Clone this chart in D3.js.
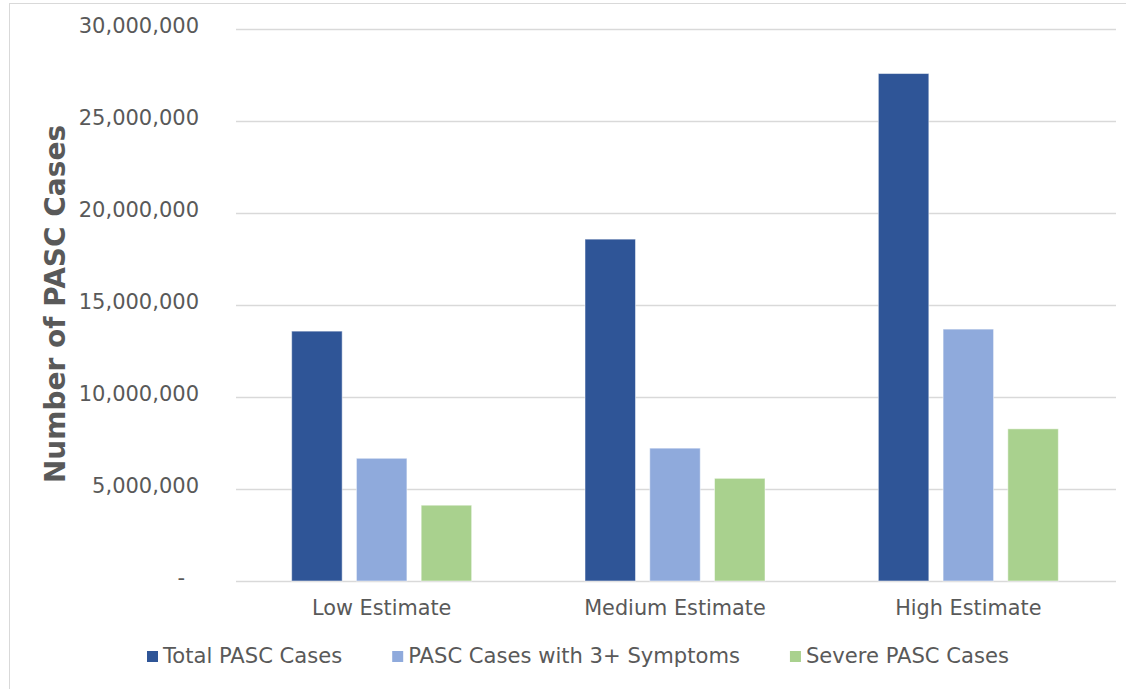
<!DOCTYPE html>
<html>
<head>
<meta charset="utf-8">
<script src="https://cdn.jsdelivr.net/npm/d3@7"></script>
<style>
  body { margin: 0; background: #fff; }
  text { font-family: "DejaVu Sans", Verdana, sans-serif; fill: #595959; }
</style>
</head>
<body>
<svg id="chart" width="1126" height="689"></svg>
<script>
const categories = ["Low Estimate", "Medium Estimate", "High Estimate"];
const seriesNames = ["Total PASC Cases", "PASC Cases with 3+ Symptoms", "Severe PASC Cases"];
const seriesColors = ["#2F5597", "#8FAADC", "#A9D18E"];
const totalCases = [13580000, 18580000, 27580000];
const symptomCases = [6670000, 7220000, 13690000];
const severeCases = [4120000, 5580000, 8270000];
const yTicks = [0, 5000000, 10000000, 15000000, 20000000, 25000000, 30000000];

const series = [totalCases, symptomCases, severeCases];

const svg = d3.select('#chart');
const W = 1126, H = 689;
const m = { left: 236, right: 10, top: 29, bottom: 108 };

// chart border
svg.append('rect')
  .attr('x', 9.5).attr('y', 3.5)
  .attr('width', 1300).attr('height', 900)
  .attr('fill', 'none')
  .attr('stroke', '#d9d9d9');

const x0 = d3.scaleBand()
  .domain(categories)
  .range([m.left, W - m.right])
  .padding(0);

const groupW = 180;
const x1 = d3.scaleBand()
  .domain(d3.range(seriesNames.length))
  .range([0, groupW])
  .paddingInner(0.22)
  .paddingOuter(0);

const y = d3.scaleLinear()
  .domain([0, 30000000])
  .range([H - m.bottom, m.top]);

// gridlines
svg.append('g')
  .selectAll('line')
  .data(yTicks)
  .enter()
  .append('line')
  .attr('x1', m.left)
  .attr('x2', W - m.right)
  .attr('y1', d => Math.round(y(d)) + 0.5)
  .attr('y2', d => Math.round(y(d)) + 0.5)
  .attr('stroke', '#d9d9d9')
  .attr('stroke-width', 1.3);

// y tick labels
const fmt = d3.format(',');
svg.append('g')
  .selectAll('text')
  .data(yTicks)
  .enter()
  .append('text')
  .attr('x', d => d === 0 ? 185 : 199)
  .attr('y', d => y(d) - 2)
  .attr('text-anchor', 'end')
  .attr('dominant-baseline', 'middle')
  .attr('font-size', '21px')
  .text(d => d === 0 ? '-' : fmt(d));

// bars
const groups = svg.append('g')
  .selectAll('g')
  .data(categories)
  .enter()
  .append('g')
  .attr('transform', d => `translate(${x0(d) + (x0.bandwidth() - groupW) / 2 - 1},0)`);

groups.selectAll('rect')
  .data((c, ci) => series.map((s, si) => ({ si, v: s[ci] })))
  .enter()
  .append('rect')
  .attr('x', d => x1(d.si))
  .attr('y', d => y(d.v))
  .attr('width', x1.bandwidth())
  .attr('height', d => y(0) - y(d.v))
  .attr('fill', d => seriesColors[d.si])
  .attr('stroke', '#ffffff')
  .attr('stroke-opacity', 0.5)
  .attr('stroke-width', 1);

// category labels
svg.append('g')
  .selectAll('text')
  .data(categories)
  .enter()
  .append('text')
  .attr('x', d => x0(d) + x0.bandwidth() / 2 - 1)
  .attr('y', 609)
  .attr('text-anchor', 'middle')
  .attr('dominant-baseline', 'middle')
  .attr('font-size', '20.8px')
  .text(d => d);

// y-axis title
svg.append('text')
  .attr('transform', 'translate(57,304) rotate(-90)')
  .attr('text-anchor', 'middle')
  .attr('dominant-baseline', 'middle')
  .attr('font-size', '28px')
  .attr('font-weight', 'bold')
  .text('Number of PASC Cases');

// legend
const legend = svg.append('g');
let lx = 147;
seriesNames.forEach((name, i) => {
  legend.append('rect')
    .attr('x', lx).attr('y', 651)
    .attr('width', 11).attr('height', 11)
    .attr('fill', seriesColors[i]);
  const t = legend.append('text')
    .attr('x', lx + 16)
    .attr('y', 657)
    .attr('dominant-baseline', 'middle')
    .attr('font-size', '21.1px')
    .text(name);
  lx += 16 + t.node().getComputedTextLength() + 50;
});
</script>
</body>
</html>
